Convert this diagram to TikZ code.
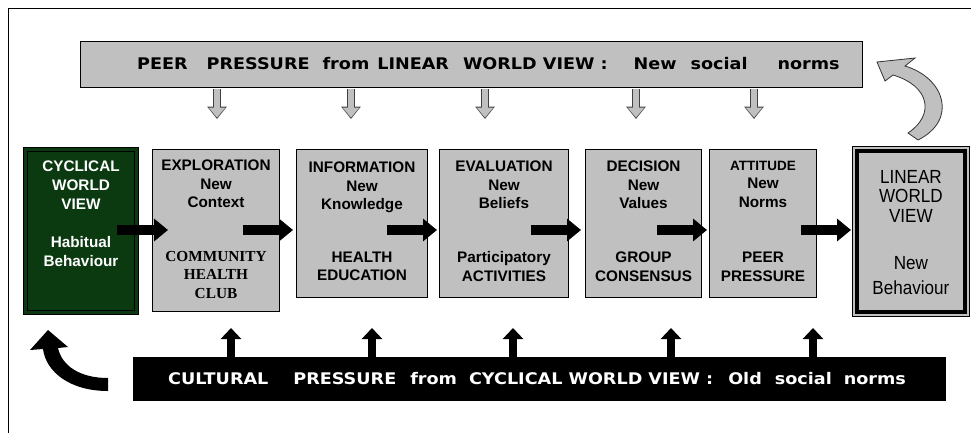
\documentclass[tikz,border=0pt]{standalone}
\usepackage{fontspec}
\setmainfont{Liberation Sans}
\newfontfamily\bannerfont[FakeStretch=1.1]{DejaVu Sans}
\newfontfamily\serifbold{Liberation Serif}
\newfontfamily\narrowfont[FakeStretch=0.9]{Liberation Sans}
\usepackage{xcolor}
\usepackage{tikz}
\usetikzlibrary{arrows.meta}

\definecolor{boxgray}{HTML}{C0C0C0}
\definecolor{darkgreen}{HTML}{0B3A10}

\tikzset{
  stagebox/.style={draw, line width=1pt, fill=boxgray, anchor=north west, inner sep=0pt},
  stagetext/.style={align=center, inner sep=0pt, anchor=north,
    font=\bfseries\fontsize{15.3}{18.5}\selectfont},
  clubtext/.style={stagetext, font=\serifbold\bfseries\fontsize{15.3}{18.5}\selectfont},
  lintext/.style={align=center, inner sep=0pt, anchor=north, text=black,
    font=\narrowfont\fontsize{19}{19.5}\selectfont},
  bannertext/.style={inner sep=0pt, anchor=base west, font=\bannerfont\bfseries\fontsize{16}{18}\selectfont},
  blockarrow/.style={line width=10pt, -{Triangle[length=14pt,width=22pt]}},
  upblock/.style={line width=8pt, -{Triangle[length=11pt,width=20pt]}},
  hollowarrow/.style={line width=6.5pt, draw=boxgray, shorten >=1.4pt,
    -{Triangle[length=10pt,width=16pt]},
    preaction={draw=black!75, line width=8.5pt, shorten >=0pt,
      -{Triangle[length=12.5pt,width=19pt]}}}
}

\begin{document}
\begin{tikzpicture}[x=1pt,y=-1pt]
  \clip (0,0) rectangle (971,432);
  \draw[line width=0.9pt] (8,8) rectangle (990,450);

  % banners
  \node[stagebox, line width=1.2pt, minimum width=782pt, minimum height=46pt] (peer) at (80,41) {};
  \node[stagebox, fill=black, minimum width=812pt, minimum height=43pt] (cult) at (133,357) {};
  \node[bannertext] (peer-t) at (137,69)
    {PEER\hspace{19pt}PRESSURE\hspace{13pt}from\hspace{8pt}LINEAR\hspace{14pt}WORLD VIEW :\hspace{26pt}New\hspace{14pt}social\hspace{30pt}norms};
  \node[bannertext, text=white] (cult-t) at (168,384)
    {CULTURAL\hspace{25pt}PRESSURE\hspace{14pt}from\hspace{12pt}CYCLICAL WORLD VIEW :\hspace{15pt}Old\hspace{13pt}social\hspace{12pt}norms};

  % stages
  \node[stagebox, fill=darkgreen, minimum width=115pt, minimum height=167pt] (cyc) at (23,147) {};
  \draw[line width=1.2pt] ([shift={(4.5pt,-4.5pt)}]cyc.north west) rectangle ([shift={(-4.5pt,4.5pt)}]cyc.south east);
  \node[stagebox, minimum width=127pt, minimum height=162pt] (expl) at (152,149) {};
  \node[stagebox, minimum width=131pt, minimum height=148pt] (info) at (296,149) {};
  \node[stagebox, minimum width=129pt, minimum height=148pt] (eval) at (439,149) {};
  \node[stagebox, minimum width=116pt, minimum height=148pt] (deci) at (585,149) {};
  \node[stagebox, minimum width=107pt, minimum height=148pt] (atti) at (709,149) {};
  \node[stagebox, line width=0.8pt, minimum width=117pt, minimum height=170pt] (lin) at (852,146) {};
  \draw[line width=3.5pt] ([shift={(5pt,-5pt)}]lin.north west) rectangle ([shift={(-5pt,5pt)}]lin.south east);

  \node[stagetext, text=white, font=\bfseries\fontsize{15.3}{19}\selectfont] (cyc-a) at ([yshift=-13.7pt]cyc.north) {CYCLICAL\\WORLD\\VIEW};
  \node[stagetext, text=white] (cyc-b) at ([yshift=-89.7pt]cyc.north) {Habitual\\Behaviour};
  \node[stagetext] (expl-a) at ([yshift=-11pt]expl.north) {EXPLORATION\\New\\Context};
  \node[clubtext] (expl-b) at ([yshift=-102pt]expl.north) {COMMUNITY\\HEALTH\\CLUB};
  \node[stagetext] (info-a) at ([yshift=-12.7pt]info.north) {INFORMATION\\New\\Knowledge};
  \node[stagetext] (info-b) at ([yshift=-102.7pt]info.north) {HEALTH\\EDUCATION};
  \node[stagetext] (eval-a) at ([yshift=-11.7pt]eval.north) {EVALUATION\\New\\Beliefs};
  \node[stagetext] (eval-b) at ([yshift=-102.7pt]eval.north) {Participatory\\ACTIVITIES};
  \node[stagetext] (deci-a) at ([yshift=-12pt]deci.north) {DECISION\\New\\Values};
  \node[stagetext] (deci-b) at ([yshift=-103pt]deci.north) {GROUP\\CONSENSUS};
  \node[stagetext] (atti-a) at ([yshift=-12pt]atti.north) {{\fontsize{13.5}{18.5}\selectfont ATTITUDE}\\New\\Norms};
  \node[stagetext] (atti-b) at ([yshift=-103pt]atti.north) {PEER\\PRESSURE};
  \node[lintext] (lin-a) at ([yshift=-24pt]lin.north) {LINEAR\\WORLD\\VIEW};
  \node[lintext, font=\narrowfont\fontsize{19}{25}\selectfont] (lin-b) at ([yshift=-110.7pt]lin.north) {New\\Behaviour};

  % arrows along the row
  \coordinate (row) at (0,230);
  \draw[blockarrow] ([xshift=-22pt]cyc.east |- row) -- ([xshift=16pt]expl.west |- row);
  \draw[blockarrow] ([xshift=-37pt]expl.east |- row) -- ([xshift=-3pt]info.west |- row);
  \draw[blockarrow] ([xshift=-41pt]info.east |- row) -- ([xshift=-2pt]eval.west |- row);
  \draw[blockarrow] ([xshift=-38pt]eval.east |- row) -- ([xshift=-4pt]deci.west |- row);
  \draw[blockarrow] ([xshift=-45pt]deci.east |- row) -- ([xshift=-2pt]atti.west |- row);
  \draw[blockarrow] ([xshift=-16pt]atti.east |- row) -- ([xshift=-1pt]lin.west |- row);

  % peer pressure pushing down
  \coordinate (p1) at (217,119);
  \coordinate (p2) at (351,119);
  \coordinate (p3) at (485,119);
  \coordinate (p4) at (636,119);
  \coordinate (p5) at (754,119);
  \draw[hollowarrow] ([yshift=-0.6pt]peer.south -| p1) -- (p1);
  \draw[hollowarrow] ([yshift=-0.6pt]peer.south -| p2) -- (p2);
  \draw[hollowarrow] ([yshift=-0.6pt]peer.south -| p3) -- (p3);
  \draw[hollowarrow] ([yshift=-0.6pt]peer.south -| p4) -- (p4);
  \draw[hollowarrow] ([yshift=-0.6pt]peer.south -| p5) -- (p5);

  % cultural pressure pushing up
  \coordinate (q1) at (231,328);
  \coordinate (q2) at (372,328);
  \coordinate (q3) at (513,328);
  \coordinate (q4) at (671,328);
  \coordinate (q5) at (813,328);
  \draw[upblock] (cult.north -| q1) -- (q1);
  \draw[upblock] (cult.north -| q2) -- (q2);
  \draw[upblock] (cult.north -| q3) -- (q3);
  \draw[upblock] (cult.north -| q4) -- (q4);
  \draw[upblock] (cult.north -| q5) -- (q5);

  % curved arrows
  \fill (30,350) -- (48,330) -- (68,347) -- (58,348)
    .. controls (62,366) and (80,378) .. (108,378) -- (108,391)
    .. controls (70,391) and (46,372) .. (43,349) -- cycle;
  \filldraw[fill=boxgray, draw=black!80, line width=0.8pt] (877,62) -- (915,58) -- (905,66)
    .. controls (945,78) and (958,120) .. (918,140) -- (908,133)
    .. controls (935,115) and (930,86) .. (893,75) -- (885,81) -- cycle;
\end{tikzpicture}
\end{document}
